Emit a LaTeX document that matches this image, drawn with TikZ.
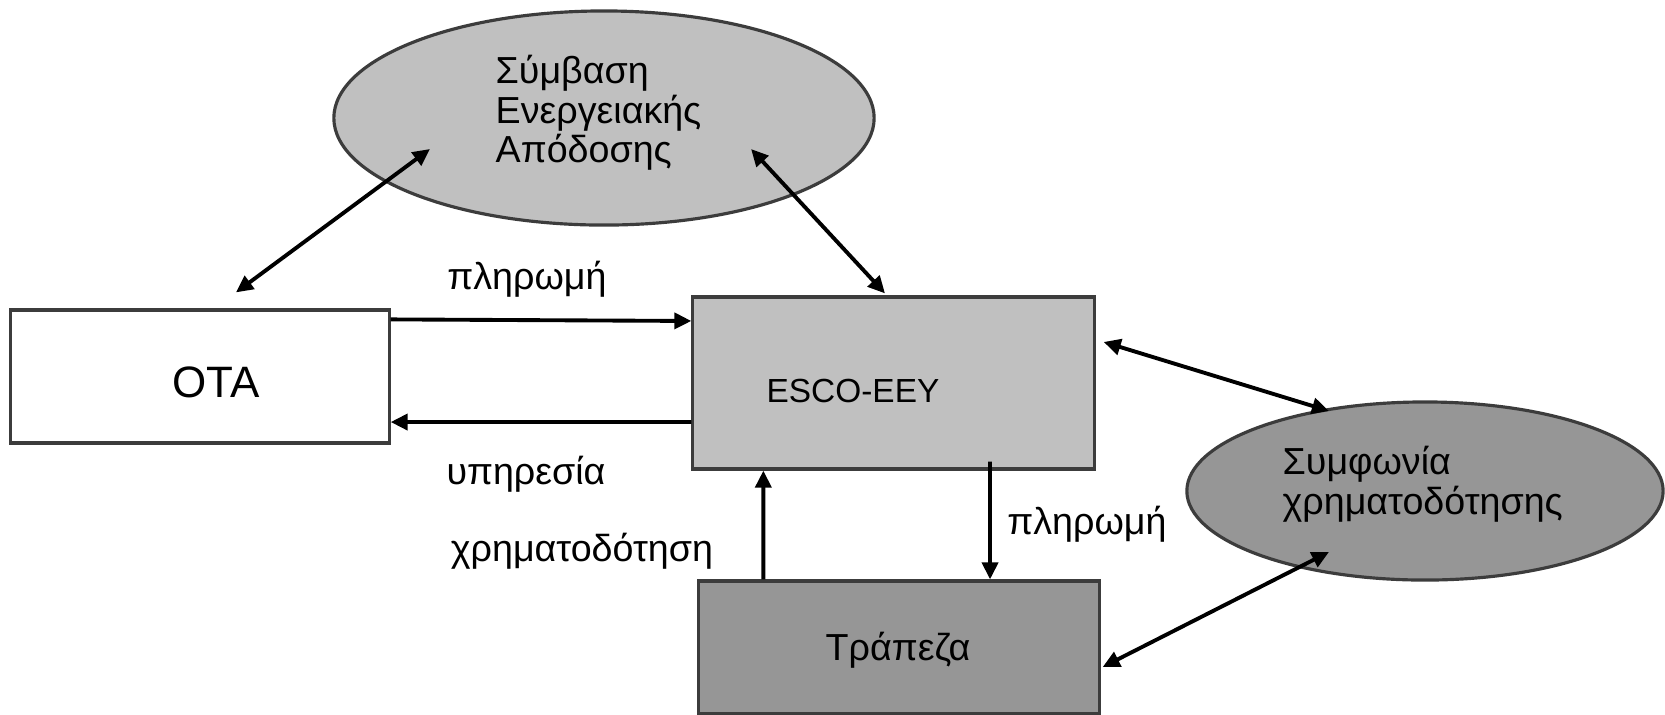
\documentclass[tikz,border=0pt]{standalone}
\usepackage{fontspec}
\setmainfont{Liberation Sans}
\usepackage{tikz}
\usetikzlibrary{shapes.geometric}
\usetikzlibrary{arrows.meta}
\usetikzlibrary{positioning, calc}
\definecolor{lightbox}{RGB}{192,192,192}
\definecolor{darkbox}{RGB}{150,150,150}
\definecolor{edgegray}{RGB}{60,60,60}

\begin{document}
\begin{tikzpicture}[x=0.01cm, y=-0.01cm,
  font=\fontsize{10.7}{9.6}\selectfont,
  box/.style={draw=edgegray, line width=0.9pt, rectangle},
  oval/.style={draw=edgegray, line width=0.9pt, ellipse},
  flow/.style={line width=1.1pt, -{Triangle[length=0.17cm,width=0.16cm]}},
  both/.style={line width=1.1pt, {Triangle[length=0.17cm,width=0.16cm]}-{Triangle[length=0.17cm,width=0.16cm]}}]
\useasboundingbox[fill=white] (0,0) rectangle (1665,714);
% the four parties
\node[oval, fill=lightbox, minimum width=5.4cm, minimum height=2.14cm] (contract) at (604,118) {};
\node[box, fill=white, minimum width=3.78cm, minimum height=1.33cm] (ota) at (200,376.5) {};
\node[box, fill=lightbox, minimum width=4.01cm, minimum height=1.72cm] (esco) at (893.5,383) {};
\node[box, fill=darkbox, minimum width=4.00cm, minimum height=1.33cm] (bank) at (899,647.5) {};
\node[oval, fill=darkbox, minimum width=4.76cm, minimum height=1.78cm] (funding) at (1425,491) {};
% texts inside
\node[align=left, anchor=west, inner sep=0pt] (contracttxt) at (495,113) {Σύμβαση\\Ενεργειακής\\Απόδοσης};
\node[font=\fontsize{12.5}{13}\selectfont] (otatxt) at (216,382) {ΟΤΑ};
\node[font=\fontsize{9.5}{10}\selectfont] (escotxt) at (853,391) {ESCO-EEY};
\node (banktxt) at (898,650) {Τράπεζα};
\node[align=left, anchor=west, inner sep=0pt] (fundingtxt) at (1282,484) {Συμφωνία\\χρηματοδότησης};
% flows
\draw[both] ([xshift=0.36cm,yshift=0.16cm]ota.north) -- ([xshift=-1.74cm,yshift=-0.31cm]contract.center);
\draw[both] ([xshift=-0.085cm,yshift=0.02cm]esco.north) -- ([xshift=1.47cm,yshift=-0.31cm]contract.center);
\draw[flow] ([yshift=-0.11cm]ota.north east) -- ([yshift=0.62cm]esco.west);
\draw[flow] ([yshift=-0.39cm]esco.west) -- ([yshift=-0.455cm]ota.east);
\draw[flow] ([xshift=0.66cm]bank.north west) -- ([xshift=0.72cm]esco.south west);
\draw[flow] ([xshift=0.965cm,yshift=0.09cm]esco.south) -- ([xshift=0.91cm]bank.north);
\draw[both] ([xshift=0.08cm,yshift=0.41cm]esco.east) -- ([xshift=-0.96cm,yshift=0.80cm]funding.center);
\draw[both] ([xshift=0.02cm,yshift=-0.195cm]bank.east) -- ([xshift=-0.96cm,yshift=-0.61cm]funding.center);
% flow labels
\node (pay1) at (527,279) {πληρωμή};
\node (service) at (526,474) {υπηρεσία};
\node (finance) at (582,551) {χρηματοδότηση};
\node (pay2) at (1087,524) {πληρωμή};
\end{tikzpicture}
\end{document}
